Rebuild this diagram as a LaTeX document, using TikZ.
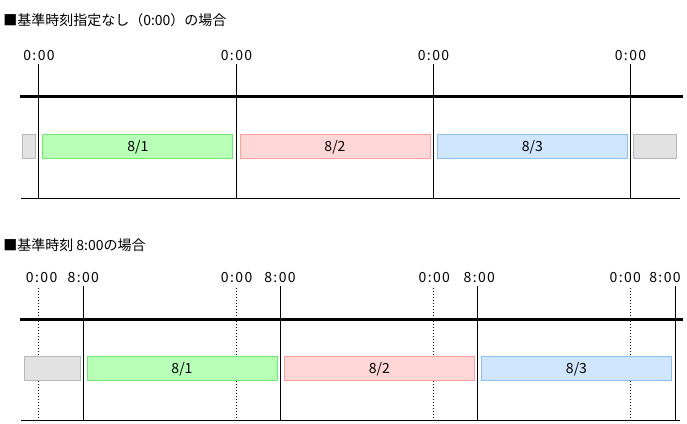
\documentclass[tikz,border=0pt]{standalone}
\usepackage{fontspec}
\setmainfont{Noto Sans CJK JP}
\newfontfamily\timefont[LetterSpace=10]{Noto Sans CJK JP}
\usepackage{tikz}
\usetikzlibrary{positioning}
\definecolor{grnfill}{RGB}{184,255,184}
\definecolor{grnline}{RGB}{112,230,112}
\definecolor{pnkfill}{RGB}{255,215,215}
\definecolor{pnkline}{RGB}{255,160,160}
\definecolor{blufill}{RGB}{208,230,255}
\definecolor{bluline}{RGB}{140,192,240}
\definecolor{gryfill}{RGB}{226,226,226}
\definecolor{gryline}{RGB}{184,184,184}
\tikzset{
  ticksolid/.style={line width=0.75pt},
  tickdotted/.style={line width=0.75pt, dash pattern=on 0.75pt off 1.5pt},
  axisline/.style={line width=2.25pt},
  baseline/.style={line width=0.75pt},
  daybar/.style={draw, line width=0.75pt, minimum width=142.5pt, minimum height=18pt, inner sep=0pt},
  greenbar/.style={daybar, fill=grnfill, draw=grnline},
  pinkbar/.style={daybar, fill=pnkfill, draw=pnkline},
  bluebar/.style={daybar, fill=blufill, draw=bluline},
  graybar/.style={daybar, fill=gryfill, draw=gryline},
  timelabel/.style={inner sep=0pt, font=\timefont\fontsize{10.5pt}{12pt}\selectfont},
  heading/.style={anchor=west, inner sep=0pt}
}
\begin{document}
\begin{tikzpicture}[x=0.75pt, y=-0.75pt, every node/.style={font=\fontsize{10.5pt}{12pt}\selectfont}]
      \useasboundingbox (0,0) rectangle (687,424);
      % case 1: no base time
      \node[heading] (h1) at (3,20.5) {■基準時刻指定なし（0:00）の場合};
      \node[timelabel] (a1) at (39,56) {0:00};
      \node[timelabel] (a2) at (236.5,56) {0:00};
      \node[timelabel] (a3) at (433.5,56) {0:00};
      \node[timelabel] (a4) at (630.5,56) {0:00};
      \draw[ticksolid] (38.5,64) -- (38.5,198.5);
      \draw[ticksolid] (236.5,64) -- (236.5,198.5);
      \draw[ticksolid] (433.3,64) -- (433.3,198.5);
      \draw[ticksolid] (630.3,64) -- (630.3,198.5);
      \draw[axisline] (20,96.5) -- (683,96.5);
      \draw[baseline] (21,198.5) -- (680,198.5);
      \node[graybar, minimum width=9.75pt] (p0) at (29.2,146.8) {};
      \node[greenbar] (p1) at (137.8,146.8) {8/1};
      \node[pinkbar] (p2) at (335,146.8) {8/2};
      \node[bluebar] (p3) at (532.3,146.8) {8/3};
      \node[graybar, minimum width=32pt] (p4) at (654.8,146.8) {};
      % case 2: base time 8:00
      \node[heading] (h2) at (3,245) {■基準時刻 8:00の場合};
      \node[timelabel] (b1) at (41.7,278) {0:00};
      \node[timelabel] (c1) at (83.3,278) {8:00};
      \node[timelabel] (b2) at (236.7,278) {0:00};
      \node[timelabel] (c2) at (280,278) {8:00};
      \node[timelabel] (b3) at (434.3,278) {0:00};
      \node[timelabel] (c3) at (479.3,278) {8:00};
      \node[timelabel] (b4) at (625.3,278) {0:00};
      \node[timelabel] (c4) at (665,278) {8:00};
      \draw[tickdotted] (38.3,288) -- (38.3,420.5);
      \draw[tickdotted] (236.7,288) -- (236.7,420.5);
      \draw[tickdotted] (433.3,288) -- (433.3,420.5);
      \draw[tickdotted] (630.3,288) -- (630.3,420.5);
      \draw[ticksolid] (83.3,286) -- (83.3,420.5);
      \draw[ticksolid] (280.7,286) -- (280.7,420.5);
      \draw[ticksolid] (477.3,286) -- (477.3,420.5);
      \draw[ticksolid] (675.3,286) -- (675.3,420.5);
      \draw[axisline] (20,319.3) -- (683,319.3);
      \draw[baseline] (21,420.3) -- (680,420.3);
      \node[graybar, minimum width=41.8pt] (q0) at (52.3,368.8) {};
      \node[greenbar] (q1) at (182,368.8) {8/1};
      \node[pinkbar] (q2) at (379.3,368.8) {8/2};
      \node[bluebar] (q3) at (576.5,368.8) {8/3};
    \end{tikzpicture}
\end{document}
